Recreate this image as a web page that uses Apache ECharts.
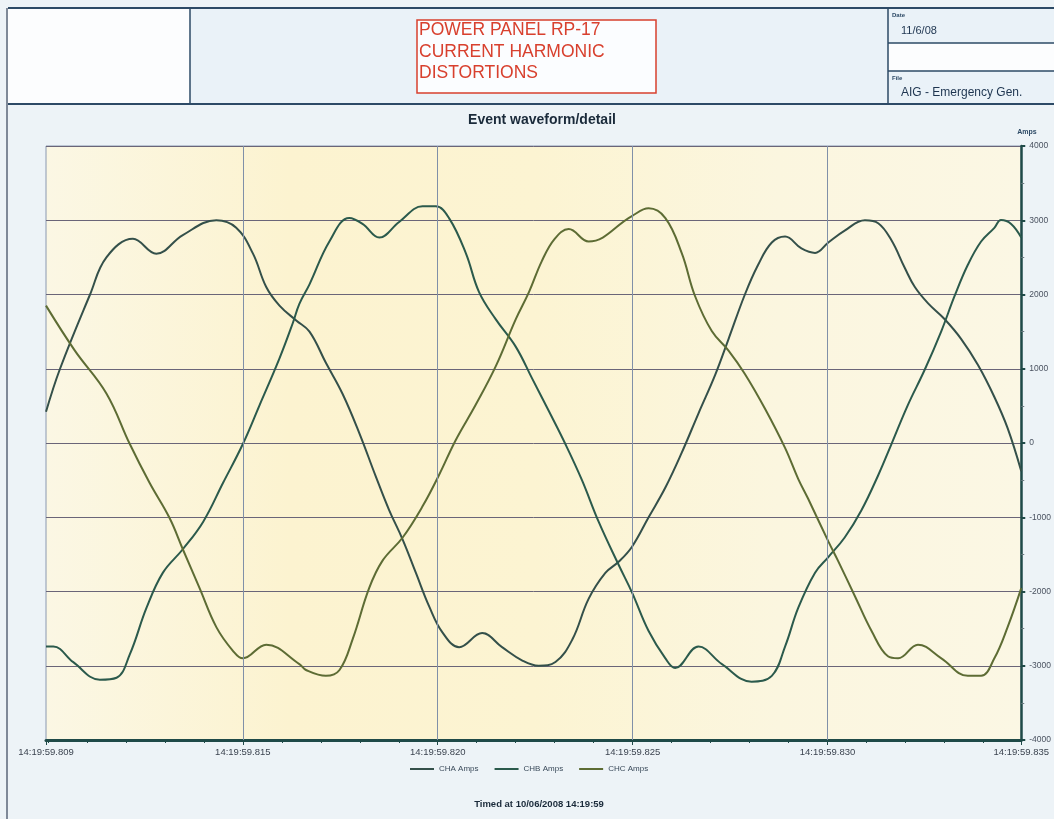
<!DOCTYPE html>
<html>
<head>
<meta charset="utf-8">
<script src="https://cdn.jsdelivr.net/npm/echarts@6/dist/echarts.min.js"></script>
<style>
html,body{margin:0;padding:0;background:#edf3f7;}
#chart{width:1054px;height:819px;}
</style>
</head>
<body>
<div id="chart"></div>
<script>
// time in ms after 14:19:59.800
var xTickValues = [9.95, 15, 20, 25, 30, 34.97];
var xTickLabels = ['14:19:59.809', '14:19:59.815', '14:19:59.820', '14:19:59.825', '14:19:59.830', '14:19:59.835'];
var xGridValues = [15, 20, 25, 30];
var xMinorTicks = [10,11,12,13,14,15,16,17,18,19,20,21,22,23,24,25,26,27,28,29,30,31,32,33,34];
var seriesNames = ['CHA Amps', 'CHB Amps', 'CHC Amps'];

var chaTime = [9.95,10.31,11.08,11.50,12.18,12.78,13.46,14.32,14.83,15.26,15.60,15.94,16.37,16.71,17.13,17.56,17.99,18.41,18.75,19.10,19.44,19.78,20.12,20.55,21.14,21.65,22.17,22.59,23.02,23.45,23.87,24.30,24.64,24.98,25.41,25.84,26.26,26.69,27.12,27.46,27.88,28.22,28.57,28.91,29.33,29.68,30.02,30.44,30.96,31.30,31.64,31.98,32.24,32.58,33.00,33.43,33.86,34.28,34.62,34.97];
var chaAmps = [420,1000,2000,2500,2750,2550,2800,3000,2900,2550,2100,1850,1650,1500,1080,660,130,-450,-900,-1300,-1750,-2200,-2550,-2750,-2560,-2750,-2930,-3000,-2950,-2650,-2100,-1750,-1600,-1400,-1000,-600,-130,400,920,1400,2000,2400,2700,2780,2620,2560,2700,2860,3000,2960,2730,2360,2100,1880,1670,1400,1050,620,200,-380];

var chbTime = [9.95,10.14,10.65,11.33,11.76,12.10,12.53,12.95,13.46,13.98,14.49,15.00,15.43,15.94,16.28,16.45,16.71,17.22,17.73,18.07,18.50,19.01,19.61,19.95,20.29,20.72,21.06,21.49,22.00,22.42,22.85,23.28,23.70,24.13,24.64,24.98,25.41,25.84,26.09,26.69,27.29,28.05,28.57,28.91,29.25,29.68,30.02,30.44,30.87,31.30,31.64,32.06,32.49,32.92,33.26,33.60,33.94,34.28,34.45,34.71,34.97];
var chbAmps = [-2742,-2742,-2952,-3188,-3162,-2847,-2218,-1746,-1431,-1063,-539,-14,511,1140,1613,1875,2137,2714,3029,2951,2767,2977,3187,3187,3029,2557,2032,1665,1298,870,430,-20,-500,-1063,-1640,-2008,-2532,-2900,-3031,-2742,-2978,-3214,-3136,-2742,-2218,-1746,-1536,-1273,-906,-434,-14,511,983,1508,1980,2400,2714,2898,3003,2951,2767];

var chcTime = [9.95,10.69,11.50,12.10,12.61,13.12,13.46,13.89,14.32,14.74,15.00,15.60,16.45,16.62,17.13,17.48,17.82,18.24,18.58,19.10,19.61,20.03,20.46,20.97,21.49,22.00,22.34,22.67,23.00,23.36,23.87,24.98,25.41,25.84,26.26,26.60,27.03,27.46,27.88,28.40,28.91,29.25,29.50,30.02,30.27,30.70,31.13,31.55,31.81,32.32,32.92,33.60,33.94,34.28,34.62,34.97];
var chcAmps = [1850,1245,668,-14,-540,-1011,-1431,-1955,-2480,-2795,-2900,-2716,-2978,-3057,-3136,-3057,-2637,-1955,-1588,-1273,-853,-434,38,511,1035,1665,2032,2450,2750,2882,2714,3056,3160,3029,2557,1980,1508,1245,930,458,-66,-486,-748,-1325,-1588,-2060,-2532,-2873,-2900,-2716,-2900,-3136,-3136,-2900,-2480,-1955];

function zip(t, v){ return t.map(function(x,i){ return [x, v[i]]; }); }

var chart = echarts.init(document.getElementById('chart'), null, {renderer:'canvas'});
var FONT = 'Liberation Sans, Arial, sans-serif';

var header = [
  {type:'rect', shape:{x:8,y:9,width:1046,height:95}, style:{fill:'#eaf2f8'}, z:-1},
  {type:'rect', shape:{x:8,y:9,width:182,height:95}, style:{fill:'#fcfdfe'}, z:-1},
  {type:'rect', shape:{x:888,y:43,width:166,height:28}, style:{fill:'#fcfdfe'}, z:-1},
  {type:'line', shape:{x1:8,y1:8,x2:1054,y2:8}, style:{stroke:'#2d4a66',lineWidth:2}},
  {type:'line', shape:{x1:8,y1:104,x2:1054,y2:104}, style:{stroke:'#2d4a66',lineWidth:2}},
  {type:'line', shape:{x1:7,y1:8,x2:7,y2:819}, style:{stroke:'#5a6678',lineWidth:1.5}},
  {type:'line', shape:{x1:190,y1:8,x2:190,y2:104}, style:{stroke:'#2d4a66',lineWidth:1.5}},
  {type:'line', shape:{x1:888,y1:8,x2:888,y2:104}, style:{stroke:'#2d4a66',lineWidth:1.5}},
  {type:'line', shape:{x1:888,y1:43,x2:1054,y2:43}, style:{stroke:'#2d4a66',lineWidth:1.5}},
  {type:'line', shape:{x1:888,y1:71,x2:1054,y2:71}, style:{stroke:'#2d4a66',lineWidth:1.5}},
  {type:'rect', shape:{x:417,y:20,width:239,height:73}, style:{fill:'#fbfdff',stroke:'#d8402e',lineWidth:1.5}},
  {type:'text', x:419, y:30, style:{text:'POWER PANEL RP-17', fill:'#d8402e', font:'17.5px '+FONT, verticalAlign:'middle'}},
  {type:'text', x:419, y:52, style:{text:'CURRENT HARMONIC', fill:'#d8402e', font:'17.5px '+FONT, verticalAlign:'middle'}},
  {type:'text', x:419, y:73, style:{text:'DISTORTIONS', fill:'#d8402e', font:'17.5px '+FONT, verticalAlign:'middle'}},
  {type:'text', x:892, y:15, style:{text:'Date', fill:'#2d4a66', font:'bold 6px '+FONT, verticalAlign:'middle'}},
  {type:'text', x:901, y:31, style:{text:'11/6/08', fill:'#1e3550', font:'11px '+FONT, verticalAlign:'middle'}},
  {type:'text', x:892, y:78, style:{text:'File', fill:'#2d4a66', font:'bold 6px '+FONT, verticalAlign:'middle'}},
  {type:'text', x:901, y:93, style:{text:'AIG - Emergency Gen.', fill:'#1e3550', font:'12px '+FONT, verticalAlign:'middle'}},
  {type:'text', x:1027, y:132, style:{text:'Amps', fill:'#2d4a66', font:'bold 7px '+FONT, align:'center', verticalAlign:'middle'}},
  {type:'text', x:539, y:804, style:{text:'Timed at 10/06/2008 14:19:59', fill:'#1a2a3a', font:'bold 9.5px '+FONT, align:'center', verticalAlign:'middle'}}
];

var option = {
  animation:false,
  backgroundColor:'#edf3f7',
  title:{text:'Event waveform/detail', left:537, top:108, textAlign:'center',
    textStyle:{fontSize:14, fontWeight:'bold', color:'#1a2a3a', fontFamily:FONT}},
  graphic:header,
  legend:{data:seriesNames, left:405, top:760, itemWidth:24, itemHeight:2, itemGap:16, icon:'rect',
    textStyle:{fontSize:8, color:'#3a4a5a', fontFamily:FONT}},
  grid:{left:46, right:32, top:146, bottom:79, show:true,
    backgroundColor:{type:'linear', x:0, y:0, x2:1, y2:0, colorStops:[
      {offset:0, color:'#fbf7e4'},{offset:0.25, color:'#fcf3d0'},{offset:0.5, color:'#fcf4d2'},{offset:0.75, color:'#fbf6df'},{offset:1, color:'#fbf7e4'}]},
    borderColor:'#8a98b0', borderWidth:1},
  xAxis:[{
    type:'value', min:9.95, max:34.97, position:'bottom',
    axisLine:{show:true, onZero:false, lineStyle:{color:'#1f4a48', width:3}},
    axisTick:{show:true, customValues:xTickValues, length:5, lineStyle:{color:'#1f4a48', width:1}},
    axisLabel:{show:true, customValues:xTickValues, fontSize:9.5, color:'#3c4450', fontFamily:FONT, margin:7,
      formatter:function(v){ for (var i=0;i<xTickValues.length;i++){ if (Math.abs(xTickValues[i]-v)<1e-6) return xTickLabels[i]; } return ''; }},
    splitLine:{show:false}
  },{
    type:'value', min:9.95, max:34.97, position:'bottom',
    axisLine:{show:false, onZero:false},
    axisTick:{show:true, customValues:xMinorTicks, length:3, lineStyle:{color:'#1f4a48', width:1}},
    axisLabel:{show:false},
    splitLine:{show:false}
  }],
  yAxis:{
    type:'value', position:'right', min:-4000, max:4000, interval:1000,
    axisLine:{show:true, lineStyle:{color:'#1f4a48', width:2.5}},
    axisTick:{show:true, length:4, lineStyle:{color:'#1f4a48', width:2}},
    minorTick:{show:true, splitNumber:2, length:3, lineStyle:{color:'#6a7a80', width:1}},
    axisLabel:{fontSize:8.5, color:'#4a5260', fontFamily:FONT, margin:8,
      formatter:function(v){ return String(v); }},
    splitLine:{show:true, lineStyle:{color:'#6a6578', width:1}}
  },
  series:[
    {type:'line', name:'grid', data:[], z:1, silent:true,
      markLine:{silent:true, symbol:['none','none'], label:{show:false}, animation:false,
        lineStyle:{color:'#8090a8', width:1, type:'solid'},
        data:xGridValues.map(function(v){ return {xAxis:v}; })}},
    {type:'line', name:seriesNames[0], data:zip(chaTime, chaAmps), smooth:0.4, showSymbol:false, z:3,
      lineStyle:{color:'#34504a', width:2}, itemStyle:{color:'#34504a'}},
    {type:'line', name:seriesNames[1], data:zip(chbTime, chbAmps), smooth:0.4, showSymbol:false, z:3,
      lineStyle:{color:'#2b5a4c', width:2}, itemStyle:{color:'#2b5a4c'}},
    {type:'line', name:seriesNames[2], data:zip(chcTime, chcAmps), smooth:0.4, showSymbol:false, z:3,
      lineStyle:{color:'#5d6c34', width:2}, itemStyle:{color:'#5d6c34'}}
  ]
};
chart.setOption(option);
</script>
</body>
</html>
